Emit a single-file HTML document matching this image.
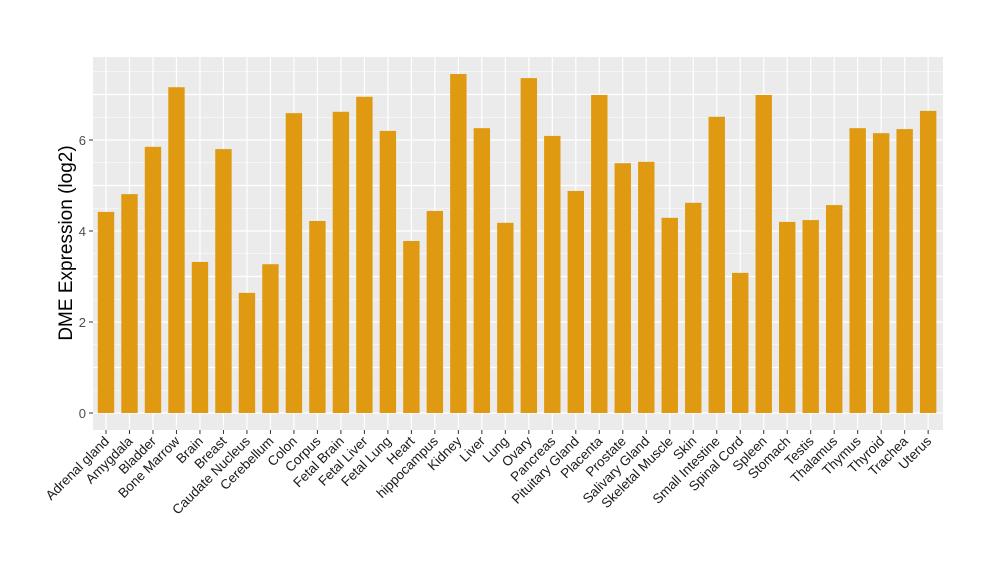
<!DOCTYPE html>
<html><head><style>body{margin:0;background:#fff}svg{display:block}text{font-family:"Liberation Sans",sans-serif}</style></head><body>
<svg width="1000" height="580" xmlns="http://www.w3.org/2000/svg">
<rect x="93" y="57" width="850" height="373" fill="#ebebeb"/>
<g id="grid"></g>
<g id="bars"></g>
<g id="labs"></g>
<text transform="translate(72,243) rotate(-90)" text-anchor="middle" font-size="19" fill="#000">DME Expression (log2)</text>
<script>
var v=[4.42,4.81,5.85,7.16,3.32,5.80,2.64,3.27,6.59,4.22,6.62,6.95,6.20,3.78,4.44,7.45,6.26,4.18,7.36,6.09,4.88,6.99,5.49,5.52,4.29,4.62,6.51,3.08,6.99,4.20,4.24,4.57,6.26,6.15,6.24,6.64];
var n=["Adrenal gland","Amygdala","Bladder","Bone Marrow","Brain","Breast","Caudate Nucleus","Cerebellum","Colon","Corpus","Fetal Brain","Fetal Liver","Fetal Lung","Heart","hippocampus","Kidney","Liver","Lung","Ovary","Pancreas","Pituitary Gland","Placenta","Prostate","Salivary Gland","Skeletal Muscle","Skin","Small Intestine","Spinal Cord","Spleen","Stomach","Testis","Thalamus","Thymus","Thyroid","Trachea","Uterus"];
var ns="http://www.w3.org/2000/svg",g=document.getElementById("grid"),b=document.getElementById("bars"),l=document.getElementById("labs");
function el(p,t,a,tx){var e=document.createElementNS(ns,t);for(var k in a)e.setAttribute(k,a[k]);if(tx!=null)e.textContent=tx;p.appendChild(e);return e;}
var y0=413,s=45.5;
for(var i=0;i<=15;i++){var y=y0-i*s/2;if(y<57)break;el(g,"line",{x1:93,x2:943,y1:y,y2:y,stroke:"#fff","stroke-width":i%2?0.6:1.2});}
for(var i=0;i<4;i++){var y=y0-i*2*s;el(g,"line",{x1:89,x2:93,y1:y,y2:y,stroke:"#333"});el(g,"text",{x:86,y:y+5,"text-anchor":"end","font-size":13,fill:"#4d4d4d"},i*2);}
for(var i=0;i<36;i++){var x=106+i*23.49;el(g,"line",{x1:x,x2:x,y1:57,y2:430,stroke:"#fff","stroke-width":1.2});
el(b,"rect",{x:x-8.2,y:y0-v[i]*s,width:16.4,height:v[i]*s,fill:"#e09a11"});
el(l,"line",{x1:x,x2:x,y1:430,y2:434,stroke:"#333"});
el(l,"text",{transform:"translate("+(x+4)+",442) rotate(-45)","text-anchor":"end","font-size":13.5,fill:"#1a1a1a"},n[i]);}
</script>
</svg></body></html>
